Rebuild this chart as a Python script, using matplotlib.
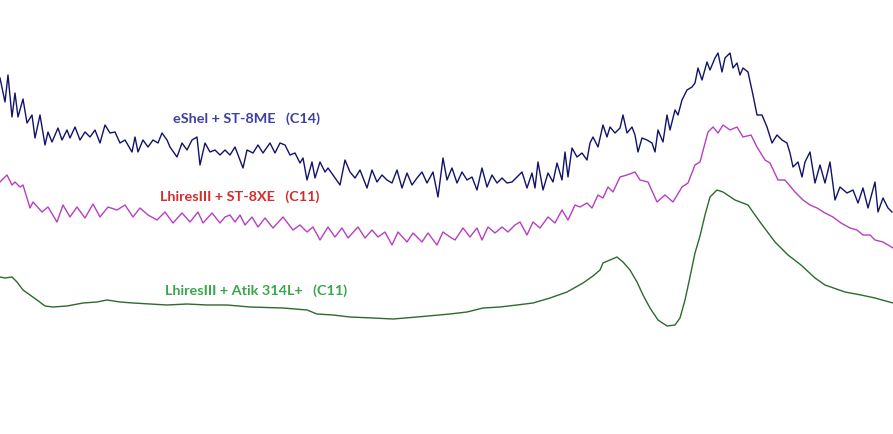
import matplotlib
matplotlib.use('Agg')
from matplotlib import pyplot as plt

# pixel-space readings of the three spectra (x to the right, y downwards)
blue_x = [0, 5, 8, 12, 15, 18, 23, 27, 32, 35, 40, 45, 48, 52, 58, 62, 67, 70, 75, 80,
          85, 90, 95, 100, 105, 110, 115, 120, 125, 132, 135, 138, 143, 148, 153, 158, 162, 167, 170, 177,
          182, 187, 192, 197, 200, 205, 210, 215, 220, 225, 230, 235, 243, 247, 253, 258, 263, 270, 275, 280,
          285, 290, 295, 300, 303, 307, 312, 315, 320, 325, 328, 333, 340, 345, 350, 355, 360, 367, 372, 377,
          382, 387, 392, 397, 402, 407, 412, 417, 422, 427, 433, 438, 443, 447, 452, 457, 462, 467, 472, 477,
          482, 487, 492, 497, 502, 507, 512, 517, 522, 527, 532, 535, 538, 543, 548, 553, 557, 562, 565, 568,
          572, 577, 582, 587, 590, 593, 598, 603, 607, 610, 615, 620, 623, 627, 632, 635, 638, 642, 647, 652,
          655, 658, 663, 667, 670, 675, 678, 682, 687, 692, 695, 698, 702, 707, 710, 715, 718, 722, 725, 730,
          733, 737, 740, 743, 748, 753, 757, 762, 767, 772, 777, 782, 787, 790, 793, 798, 802, 805, 810, 815,
          820, 825, 830, 835, 840, 847, 853, 858, 863, 868, 875, 878, 883, 888, 892]
blue_y = [78, 102, 75, 117, 93, 117, 99, 123, 115, 138, 115, 145, 132, 142, 128, 140, 130, 138, 127, 140,
          132, 137, 130, 143, 125, 133, 132, 143, 140, 152, 137, 152, 140, 147, 140, 143, 133, 140, 147, 157,
          143, 150, 140, 137, 165, 143, 152, 150, 155, 150, 155, 147, 168, 150, 153, 145, 153, 143, 153, 143,
          145, 155, 153, 163, 158, 180, 162, 178, 162, 172, 168, 175, 185, 160, 172, 178, 170, 188, 170, 182,
          175, 180, 183, 170, 188, 173, 185, 178, 172, 183, 172, 197, 158, 180, 168, 183, 172, 180, 177, 190,
          168, 187, 175, 183, 178, 183, 182, 177, 172, 188, 173, 188, 162, 190, 173, 182, 163, 180, 152, 177,
          148, 157, 153, 160, 143, 137, 147, 125, 137, 127, 133, 128, 115, 133, 127, 135, 152, 138, 140, 143,
          152, 130, 142, 115, 130, 110, 115, 100, 90, 87, 83, 68, 80, 62, 70, 58, 53, 72, 58, 53,
          68, 63, 75, 68, 72, 95, 115, 115, 127, 143, 135, 140, 143, 153, 167, 162, 177, 162, 152, 183,
          165, 183, 162, 200, 187, 193, 190, 203, 188, 208, 182, 212, 198, 208, 212]

purple_x = [0, 7, 12, 15, 20, 23, 30, 33, 42, 48, 57, 63, 70, 77, 85, 93, 100, 108, 117, 125,
            133, 140, 148, 157, 165, 173, 182, 190, 198, 203, 212, 220, 225, 230, 235, 240, 245, 252, 258, 265,
            273, 283, 293, 300, 307, 313, 320, 328, 335, 342, 348, 358, 365, 372, 378, 385, 392, 398, 407, 413,
            422, 428, 437, 443, 450, 455, 463, 470, 477, 482, 488, 495, 502, 508, 515, 520, 527, 533, 540, 548,
            555, 562, 568, 575, 580, 587, 592, 598, 603, 608, 613, 620, 627, 635, 640, 648, 657, 665, 673, 682,
            688, 695, 700, 705, 708, 713, 718, 723, 730, 737, 743, 751, 757, 765, 770, 778, 785, 795, 803, 810,
            817, 825, 833, 841, 850, 857, 863, 870, 875, 883, 893]
purple_y = [182, 175, 185, 182, 187, 185, 208, 202, 212, 207, 222, 205, 217, 207, 218, 204, 217, 207, 210, 205,
            217, 208, 215, 220, 212, 223, 213, 222, 212, 223, 213, 223, 217, 215, 222, 215, 225, 217, 227, 218,
            228, 217, 230, 225, 232, 227, 240, 227, 237, 228, 238, 227, 238, 230, 237, 232, 245, 232, 242, 233,
            242, 233, 245, 232, 237, 240, 228, 237, 228, 240, 227, 233, 227, 232, 225, 222, 235, 222, 228, 217,
            223, 210, 220, 205, 207, 203, 208, 195, 198, 187, 192, 177, 175, 172, 180, 182, 202, 195, 202, 187,
            183, 165, 162, 143, 132, 127, 133, 125, 130, 127, 137, 135, 147, 160, 163, 180, 180, 192, 200, 205,
            208, 213, 217, 223, 228, 230, 235, 235, 240, 242, 248]

green_x = [0, 5, 12, 17, 23, 30, 37, 45, 53, 67, 83, 97, 107, 120, 133, 150, 167, 187, 207, 227,
           250, 283, 307, 317, 333, 350, 373, 393, 417, 450, 467, 483, 500, 517, 533, 550, 567, 583, 593, 600,
           603, 610, 617, 623, 630, 637, 643, 650, 658, 667, 675, 680, 685, 690, 695, 700, 705, 710, 717, 723,
           735, 748, 760, 775, 788, 801, 815, 825, 845, 861, 875, 893]
green_y = [277, 278, 277, 282, 290, 295, 300, 306, 307, 306, 303, 302, 300, 302, 303, 304, 305, 304, 305, 305,
           307, 308, 310, 314, 315, 317, 318, 319, 317, 314, 312, 308, 307, 305, 303, 298, 292, 283, 276, 270,
           263, 260, 257, 262, 270, 282, 295, 308, 320, 326, 325, 318, 300, 277, 253, 236, 215, 197, 190, 192,
           200, 205, 222, 242, 255, 265, 278, 285, 292, 295, 298, 303]

labels = ['eShel + ST-8ME   (C14)', 'LhiresIII + ST-8XE   (C11)', 'LhiresIII + Atik 314L+   (C11)']
label_x = [173, 160, 165]
label_y = [119, 197, 291]

line_colors = ['#12126b', '#b63fc2', '#2b6b2b']
text_colors = ['#3d3fa6', '#d42b2b', '#3aa64c']

fig = plt.figure(figsize=(8.93, 4.34), dpi=100)
ax = fig.add_axes([0, 0, 1, 1])
ax.plot(blue_x, blue_y, color=line_colors[0], lw=1.0)
ax.plot(purple_x, purple_y, color=line_colors[1], lw=1.0)
ax.plot(green_x, green_y, color=line_colors[2], lw=1.0)

for txt, tx, ty, c in zip(labels, label_x, label_y, text_colors):
    ax.text(tx, ty, txt, color=c, fontsize=10.4, fontweight='bold', family='Lato',
            ha='left', va='center')

ax.set_xlim(0, 893)
ax.set_ylim(434, 0)
ax.axis('off')
fig.savefig('out.png', dpi=100, facecolor='white')
